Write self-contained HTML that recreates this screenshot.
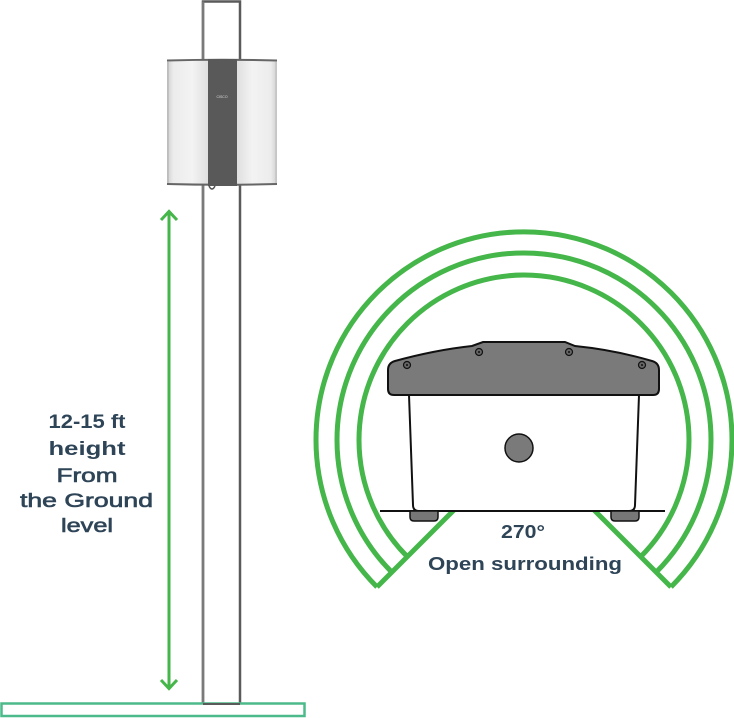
<!DOCTYPE html>
<html><head><meta charset="utf-8"><style>
html,body{margin:0;padding:0;background:#fff;}
svg{display:block;}
</style></head><body>
<svg width="734" height="718" viewBox="0 0 734 718" xmlns="http://www.w3.org/2000/svg">
<defs>
<linearGradient id="lp" x1="0" x2="1" y1="0" y2="0">
<stop offset="0" stop-color="#cfcfcf"/><stop offset="0.15" stop-color="#ececec"/><stop offset="0.6" stop-color="#f3f3f3"/><stop offset="1" stop-color="#dedede"/>
</linearGradient>
<linearGradient id="rp" x1="0" x2="1" y1="0" y2="0">
<stop offset="0" stop-color="#dedede"/><stop offset="0.4" stop-color="#f3f3f3"/><stop offset="0.85" stop-color="#ececec"/><stop offset="1" stop-color="#cfcfcf"/>
</linearGradient>
</defs>

<!-- pole -->
<path d="M203,704 L203,1.5 L240,1.5 L240,704" fill="#fff" stroke="#5a5a5a" stroke-width="2.5"/>
<line x1="203" y1="1.5" x2="203" y2="704" stroke="#7a7a7a" stroke-width="2.5"/>

<!-- speaker -->
<rect x="167" y="60" width="42" height="125" fill="url(#lp)"/>
<rect x="236" y="60" width="41" height="125" fill="url(#rp)"/>
<line x1="168" y1="62" x2="168" y2="183" stroke="#aaa" stroke-width="1"/>
<line x1="276" y1="62" x2="276" y2="183" stroke="#bbb" stroke-width="1"/>
<path d="M167,60.5 Q222,59 277,60.5" fill="none" stroke="#666" stroke-width="2"/>
<path d="M167,184 Q222,185.5 277,184" fill="none" stroke="#666" stroke-width="2"/>
<rect x="208" y="59" width="29" height="127" fill="#595959"/>
<text x="222" y="98" font-family="Liberation Sans, sans-serif" font-size="3.5" fill="#ddd" text-anchor="middle">CISCO</text>
<path d="M209,186 Q212,192 215,186" fill="none" stroke="#555" stroke-width="1.5"/>

<!-- height arrow -->
<line x1="169" y1="212" x2="169" y2="688" stroke="#45b649" stroke-width="3"/>
<polyline points="161,220 169,211.5 177,220" fill="none" stroke="#45b649" stroke-width="3"/>
<polyline points="161,680 169,688.5 177,680" fill="none" stroke="#45b649" stroke-width="3"/>

<!-- ground -->
<rect x="1.5" y="703.5" width="303" height="12.5" fill="#fff" stroke="#4dba8b" stroke-width="2.5"/>
<line x1="203" y1="704" x2="240" y2="704" stroke="#5a5a5a" stroke-width="2"/>

<!-- left text -->
<g font-family="Liberation Sans, sans-serif" fill="#2e4457" text-anchor="middle" font-size="19">
<text x="87" y="428" font-weight="bold" textLength="77" lengthAdjust="spacingAndGlyphs">12-15 ft</text>
<text x="87" y="455" font-weight="bold" textLength="77" lengthAdjust="spacingAndGlyphs">height</text>
<g stroke="#2e4457" stroke-width="0.6">
<text x="87" y="482" textLength="61" lengthAdjust="spacingAndGlyphs">From</text>
<text x="86.5" y="507" textLength="133" lengthAdjust="spacingAndGlyphs">the Ground</text>
<text x="87" y="532" textLength="52" lengthAdjust="spacingAndGlyphs">level</text>
</g>
</g>

<!-- arcs -->
<g fill="none" stroke="#45b649" stroke-width="5">
<path d="M377,587 A208,208 0 1 1 671,587"/>
<path d="M391.8,572.2 A187,187 0 1 1 656.2,572.2"/>
<path d="M407.3,556.7 A165,165 0 1 1 640.7,556.7"/>
<line x1="377" y1="587" x2="455" y2="509"/>
<line x1="671" y1="587" x2="593" y2="509"/>
</g>

<!-- device body -->
<path d="M409,395 L413,505 Q413,511 419,511 L629,511 Q635,511 635,505 L639,395" fill="#fff" stroke="#111" stroke-width="2"/>
<line x1="380" y1="511" x2="665" y2="511" stroke="#111" stroke-width="2"/>
<path d="M410,511 L410,517 Q410,521 414,521 L434,521 Q438,521 438,517 L438,511 Z" fill="#777" stroke="#111" stroke-width="1.5"/>
<path d="M611,511 L611,517 Q611,521 615,521 L635,521 Q639,521 639,517 L639,511 Z" fill="#777" stroke="#111" stroke-width="1.5"/>
<circle cx="519" cy="448" r="14" fill="#7a7a7a" stroke="#111" stroke-width="1.5"/>

<!-- lid -->
<path d="M388,370 Q388,363 395,361 Q435,350 472,346 L483,342 L565,342 L575,346 Q615,350 652,361 Q659,363 659,370 L659,389 Q659,395 653,395 L394,395 Q388,395 388,389 Z" fill="#7a7a7a" stroke="#111" stroke-width="2"/>
<g fill="#666" stroke="#111" stroke-width="1.2">
<circle cx="407" cy="365" r="3.5"/>
<circle cx="479" cy="352" r="3.5"/>
<circle cx="569" cy="352" r="3.5"/>
<circle cx="642" cy="365" r="3.5"/>
</g>
<g fill="#111">
<circle cx="407" cy="365" r="1"/>
<circle cx="479" cy="352" r="1"/>
<circle cx="569" cy="352" r="1"/>
<circle cx="642" cy="365" r="1"/>
</g>

<!-- right text -->
<g font-family="Liberation Sans, sans-serif" fill="#2e4457" text-anchor="middle" font-weight="bold" font-size="18">
<text x="523" y="538" textLength="44" lengthAdjust="spacingAndGlyphs">270°</text>
<text x="525" y="570" textLength="194" lengthAdjust="spacingAndGlyphs">Open surrounding</text>
</g>
</svg>
</body></html>
